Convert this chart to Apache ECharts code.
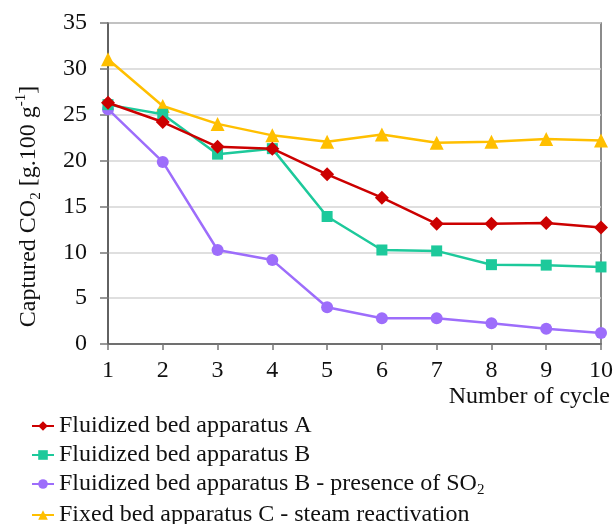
<!DOCTYPE html>
<html>
<head>
<meta charset="utf-8">
<script src="https://cdn.jsdelivr.net/npm/echarts@6/dist/echarts.min.js"></script>
<style>
html,body{margin:0;padding:0;background:#fff;}
#chart{width:616px;height:524px;}
</style>
</head>
<body>
<div id="chart"></div>
<script>
const cycles = ['1','2','3','4','5','6','7','8','9','10'];
const yTicks = [0,5,10,15,20,25,30,35];
const seriesNames = [
  'Fluidized bed apparatus A',
  'Fluidized bed apparatus B',
  'Fluidized bed apparatus B - presence of SO2',
  'Fixed bed apparatus C - steam reactivation'
];
const fluidA = [26.3, 24.2, 21.5, 21.3, 18.5, 15.95, 13.1, 13.1, 13.2, 12.7];
const fluidB = [26.1, 25.05, 20.7, 21.3, 13.9, 10.25, 10.15, 8.65, 8.6, 8.4];
const fluidBSO2 = [25.6, 19.85, 10.25, 9.15, 4.0, 2.8, 2.8, 2.25, 1.65, 1.2];
const fixedC = [31.05, 25.95, 24.0, 22.75, 22.05, 22.85, 21.95, 22.05, 22.35, 22.2];

const FONT = 'Liberation Serif';
const FS = 24;
const colors = ['#cc0000', '#1dc99b', '#9d6dfb', '#ffbf00'];
const symbols = ['diamond', 'rect', 'circle', 'triangle'];
const sizes = [14, 11, 12, 14];
const dataSets = [fluidA, fluidB, fluidBSO2, fixedC];

const chart = echarts.init(document.getElementById('chart'), null, {renderer: 'canvas'});
chart.setOption({
  animation: false,
  backgroundColor: '#fff',
  grid: {
    left: 108, right: 15, top: 23, bottom: 180,
    containLabel: false,
    outerBoundsMode: 'none',
    show: true, borderColor: '#666', borderWidth: 1.5, backgroundColor: 'transparent'
  },
  legend: {
    orient: 'vertical',
    left: 31,
    top: 414,
    height: 120,
    padding: 0,
    itemWidth: 22,
    itemHeight: 12,
    itemGap: 5,
    data: seriesNames,
    textStyle: {
      fontFamily: FONT, fontSize: FS, color: '#111', lineHeight: 22,
      rich: {
        t: {fontFamily: FONT, fontSize: FS, color: '#111', lineHeight: 22},
        sub: {fontFamily: FONT, fontSize: 15, color: '#111', lineHeight: 22, verticalAlign: 'bottom', padding: [0,0,-3,0]}
      }
    },
    formatter: function (name) {
      if (name.endsWith('SO2')) {
        return '{t|' + name.slice(0, -1) + '}{sub|2}';
      }
      return '{t|' + name + '}';
    }
  },
  xAxis: {
    type: 'category',
    data: cycles,
    boundaryGap: false,
    name: 'Number of cycle',
    nameLocation: 'end',
    nameGap: 9,
    nameMoveOverlap: false,
    nameTextStyle: {
      fontFamily: FONT, fontSize: FS, color: '#111',
      align: 'right', verticalAlign: 'top', padding: [41, 0, 0, 0]
    },
    axisLine: {lineStyle: {color: '#555', width: 1.5}},
    axisTick: {show: true, inside: false, length: 6, alignWithLabel: true, lineStyle: {color: '#777', width: 1.5}},
    axisLabel: {fontFamily: FONT, fontSize: FS, color: '#111', margin: 15},
    splitLine: {show: false}
  },
  yAxis: {
    type: 'value',
    min: 0, max: 35, interval: 5,
    name: '{a|Captured CO}{sub|2}{a| [g.100 g}{sup|-1}{a|]}',
    nameLocation: 'middle',
    nameGap: 64,
    nameRotate: 90,
    nameMoveOverlap: false,
    nameTextStyle: {
      fontFamily: FONT, fontSize: FS, color: '#111',
      padding: [0, 46, 0, 0],
      rich: {
        a: {fontFamily: FONT, fontSize: FS, color: '#111', lineHeight: 30, verticalAlign: 'middle'},
        sub: {fontFamily: FONT, fontSize: 15, color: '#111', lineHeight: 30, verticalAlign: 'bottom'},
        sup: {fontFamily: FONT, fontSize: 15, color: '#111', lineHeight: 30, verticalAlign: 'top'}
      }
    },
    axisLine: {show: true, lineStyle: {color: '#555', width: 1.5}},
    axisTick: {show: true, inside: false, length: 8, lineStyle: {color: '#777', width: 1.5}},
    axisLabel: {
      fontFamily: FONT, fontSize: FS, color: '#111', margin: 21,
      formatter: function (v) { return yTicks.indexOf(v) >= 0 ? String(v) : ''; }
    },
    splitLine: {show: true, lineStyle: {color: '#d4d4d4', width: 1.5}}
  },
  series: seriesNames.map(function (n, i) {
    return {
      name: n,
      type: 'line',
      data: dataSets[i],
      color: colors[i],
      symbol: symbols[i],
      symbolSize: sizes[i],
      lineStyle: {width: 2.5, color: colors[i]},
      itemStyle: {color: colors[i]},
      z: 10 - i
    };
  })
});
</script>
</body>
</html>
